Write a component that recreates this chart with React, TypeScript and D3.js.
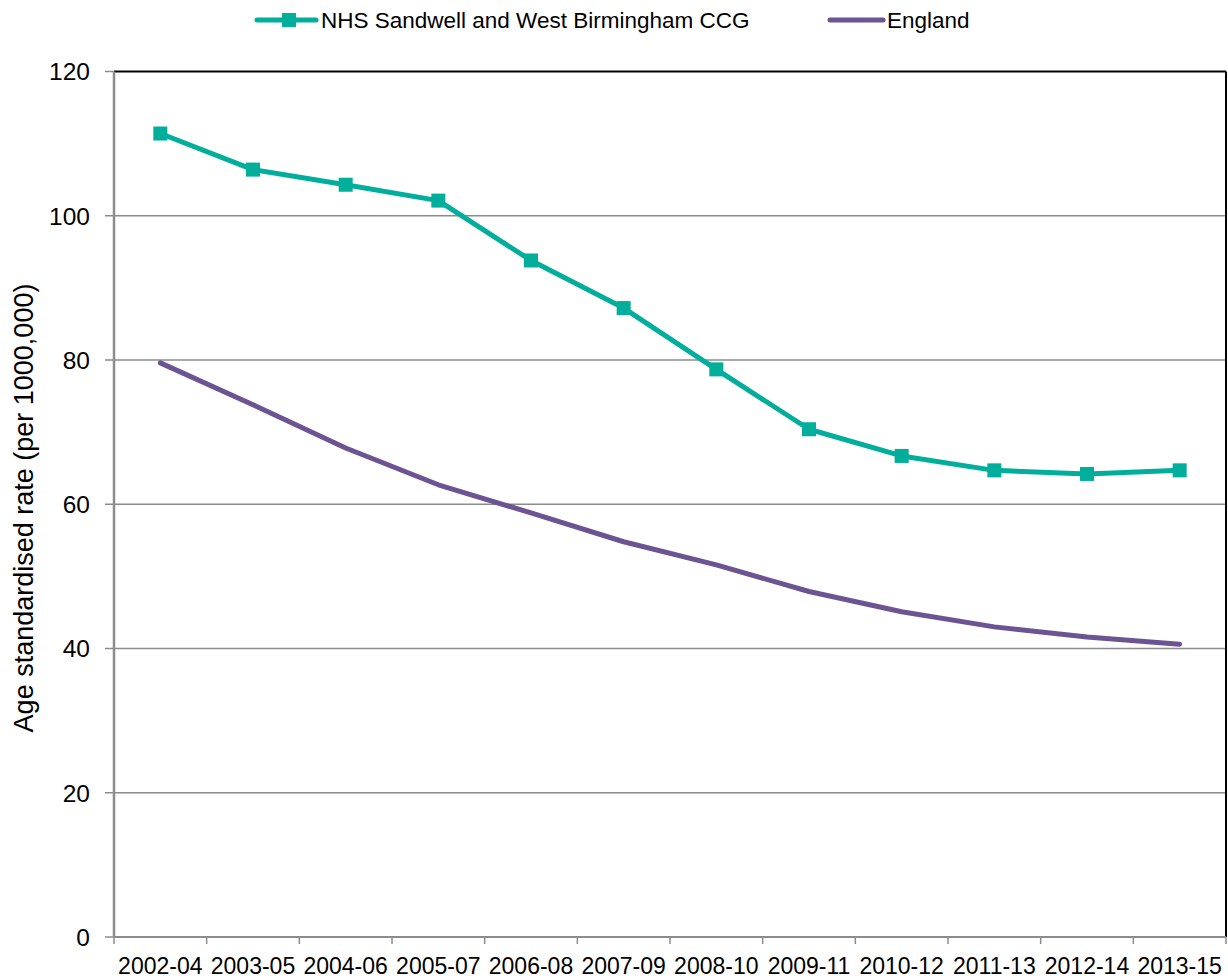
import React from "react";
import * as d3 from "d3";

const categories = ["2002-04","2003-05","2004-06","2005-07","2006-08","2007-09","2008-10","2009-11","2010-12","2011-13","2012-14","2013-15"];
const ccgValues = [111.4, 106.4, 104.3, 102.1, 93.8, 87.2, 78.7, 70.4, 66.7, 64.7, 64.2, 64.7];
const englandValues = [79.6, 73.8, 67.8, 62.7, 58.8, 54.8, 51.6, 47.9, 45.1, 43.0, 41.6, 40.6];
const yTicks = [0, 20, 40, 60, 80, 100, 120];
const seriesNames = ["NHS Sandwell and West Birmingham CCG", "England"];

const W = 1228, H = 979;
const L = 114, R = 1226, T = 71.5, B = 937;
const TEAL = "#00AE9B";
const PURPLE = "#6B5491";
const GRID = "#8C8C8C";
const FONT = "'Liberation Sans', Arial, sans-serif";

export default function App() {
  const x = d3.scaleBand<string>().domain(categories).range([L, R]);
  const y = d3.scaleLinear().domain([0, 120]).range([B, T]);
  const cx = (c: string) => (x(c) as number) + x.bandwidth() / 2;
  const line = d3.line<number>().x((_, i) => cx(categories[i])).y(v => y(v));
  const boundaries = d3.range(categories.length + 1).map(i => L + i * x.step());

  return (
    <svg width={W} height={H} style={{ position: "absolute", left: 0, top: 0, background: "#fff" }} fontFamily={FONT}>
      <rect x={0} y={0} width={W} height={H} fill="#fff" />
      {yTicks.filter(t => t > 0 && t < 120).map(t => (
        <line key={t} x1={L} x2={R} y1={y(t)} y2={y(t)} stroke={GRID} strokeWidth={1.5} />
      ))}
      <line x1={L} x2={R} y1={y(120)} y2={y(120)} stroke="#000" strokeWidth={2} />
      <line x1={R} x2={R} y1={y(120)} y2={B} stroke="#000" strokeWidth={2} />
      <line x1={L} x2={L} y1={y(120)} y2={B} stroke={GRID} strokeWidth={2.5} />
      {yTicks.map(t => (
        <g key={t}>
          <line x1={L - 9} x2={L} y1={y(t)} y2={y(t)} stroke={GRID} strokeWidth={1.5} />
          <text x={90} y={y(t)} dy="0.36em" textAnchor="end" fontSize={24.5} fill="#000">{t}</text>
        </g>
      ))}
      <line x1={L} x2={R} y1={B} y2={B} stroke={GRID} strokeWidth={2} />
      {boundaries.map((bx, i) => (
        <line key={i} x1={bx} x2={bx} y1={B} y2={B + 7} stroke={GRID} strokeWidth={1.5} />
      ))}
      {categories.map(c => (
        <text key={c} x={cx(c)} y={974} textAnchor="middle" fontSize={23} fill="#000">{c}</text>
      ))}
      <text transform={`translate(33, 508) rotate(-90)`} textAnchor="middle" fontSize={27} fill="#000">
        Age standardised rate (per 1000,000)
      </text>
      <path d={line(englandValues) || ""} fill="none" stroke={PURPLE} strokeWidth={5} strokeLinejoin="round" strokeLinecap="round" />
      <path d={line(ccgValues) || ""} fill="none" stroke={TEAL} strokeWidth={5} strokeLinejoin="round" />
      {ccgValues.map((v, i) => (
        <rect key={i} x={cx(categories[i]) - 7} y={y(v) - 7} width={14} height={14} fill={TEAL} />
      ))}
      <line x1={257} x2={316} y1={20} y2={20} stroke={TEAL} strokeWidth={5} strokeLinecap="round" />
      <rect x={282} y={13} width={14} height={14} fill={TEAL} />
      <text x={321} y={20} dy="0.36em" fontSize={22.5} fill="#000">{seriesNames[0]}</text>
      <line x1={830} x2={883} y1={20} y2={20} stroke={PURPLE} strokeWidth={5} strokeLinecap="round" />
      <text x={887} y={20} dy="0.36em" fontSize={22.5} fill="#000">{seriesNames[1]}</text>
    </svg>
  );
}
